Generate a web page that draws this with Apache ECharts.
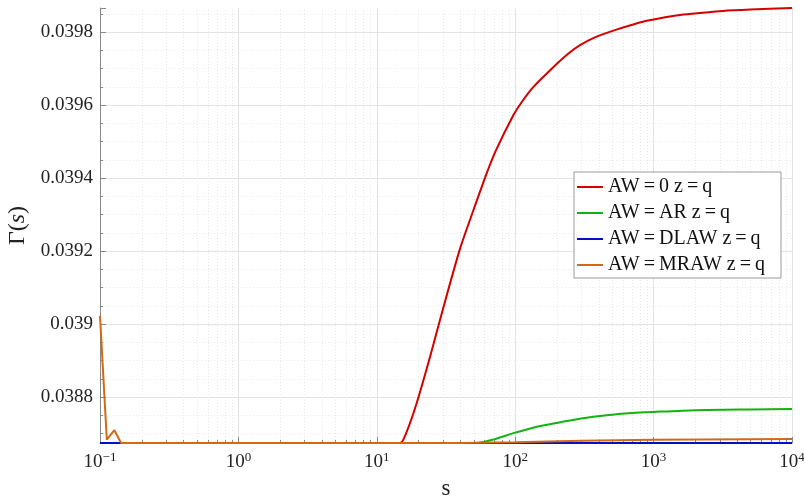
<!DOCTYPE html>
<html>
<head>
<meta charset="utf-8">
<title>Gamma(s)</title>
<script src="https://cdn.jsdelivr.net/npm/echarts@6/dist/echarts.min.js"></script>
<style>
    html, body { margin: 0; padding: 0; background: #fff; }
    #chart { width: 804px; height: 498px; }
</style>
</head>
<body>
<div id="chart"></div>
<script>
// 数据
var Y_MIN = 0.038674;
var Y_MAX = 0.039866;

var seriesNames = ['AW=0 z=q', 'AW=AR z=q', 'AW=DLAW z=q', 'AW=MRAW z=q'];
var seriesColors = ['#d40000', '#10b410', '#0010c8', '#d26a14'];

var sRed = [0.1, 14.7, 16.4, 19.4, 24.2, 30.3, 39.9, 49.8, 62.2, 72.6, 96.9, 110, 135, 200, 240, 294, 380, 512, 700,
    892, 1550, 3170, 5000, 10000];
var vRed = [0.038674, 0.038674, 0.038704, 0.038783, 0.038909, 0.039046, 0.039206, 0.039311, 0.039413, 0.039476,
    0.039572, 0.039605, 0.039649, 0.039713, 0.039740, 0.039764, 0.039786, 0.039804, 0.039820, 0.039831,
    0.039847, 0.039858, 0.039862, 0.039866];

var sGreen = [0.1, 52, 70, 97, 135, 200, 300, 458, 700, 993, 2000, 5000, 10000];
var vGreen = [0.038674, 0.038674, 0.038684, 0.038701, 0.038716, 0.038729, 0.038741, 0.038750, 0.038756,
    0.038759, 0.038764, 0.038766, 0.038767];

var sBlue = [0.1, 1, 10, 100, 1000, 10000];
var vBlue = [0.038674, 0.038674, 0.038674, 0.038674, 0.038674, 0.038674];

var sOrange = [0.1, 0.112, 0.127, 0.142, 1, 10, 40, 100, 300, 1000, 10000];
var vOrange = [0.039022, 0.038683, 0.038709, 0.038674, 0.038674, 0.038674, 0.038674, 0.038676, 0.038680,
    0.038683, 0.038685];

// x 轴次刻度 (2..9 × 10^n)
var xMinorTicks = [];
for (var e = -1; e < 4; e++) {
    for (var k = 2; k <= 9; k++) {
        xMinorTicks.push(+(k * Math.pow(10, e)).toFixed(4));
    }
}

var FONT = 'Liberation Serif';

function pairs(xs, ys) {
    return xs.map(function (x, i) {
        return [x, ys[i]];
    });
}

function lineSeries(i, xs, ys, smooth) {
    return {
        name: seriesNames[i],
        type: 'line',
        symbol: 'none',
        smooth: smooth || false,
        z: 3,
        lineStyle: {width: 2, color: seriesColors[i]},
        itemStyle: {color: seriesColors[i]},
        data: pairs(xs, ys)
    };
}

var chart = echarts.init(document.getElementById('chart'));

var option = {
    animation: false,
    backgroundColor: '#fff',
    grid: {
        left: 100,
        right: 12,
        top: 8,
        bottom: 55,
        outerBoundsMode: 'none'
    },
    legend: {
        data: seriesNames,
        orient: 'vertical',
        left: 574,
        top: 172,
        padding: [5, 16, 3, 3],
        icon: 'rect',
        itemWidth: 26,
        itemHeight: 2,
        itemGap: 6,
        borderColor: '#9a9a9a',
        borderWidth: 1,
        backgroundColor: '#fff',
        formatter: function (name) {
            return name.replace(/=/g, '{eq|=}');
        },
        textStyle: {
            fontFamily: FONT,
            fontSize: 20,
            lineHeight: 20,
            color: '#111',
            rich: {
                eq: {fontFamily: FONT, fontSize: 20, color: '#111', padding: [0, 4]}
            }
        }
    },
    xAxis: {
        type: 'log',
        logBase: 10,
        min: 0.1,
        max: 10000,
        name: 's',
        nameLocation: 'middle',
        nameGap: 34,
        nameTextStyle: {fontFamily: FONT, fontSize: 23, color: '#222'},
        axisLine: {lineStyle: {color: '#888', width: 1}},
        axisTick: {inside: true, length: 6, lineStyle: {color: '#888'}},
        splitLine: {show: true, lineStyle: {color: '#e3e3e3', width: 1}},
        axisLabel: {
            margin: 8,
            fontFamily: FONT,
            fontSize: 19,
            color: '#222',
            formatter: function (value) {
                var p = Math.round(Math.log(value) / Math.LN10);
                return '10{sup|' + (p < 0 ? '\u2212' + (-p) : p) + '}';
            },
            rich: {
                sup: {fontFamily: FONT, fontSize: 13, color: '#222', verticalAlign: 'bottom', padding: [0, 0, 9, 0]}
            }
        }
    },
    yAxis: {
        type: 'value',
        min: Y_MIN,
        max: Y_MAX,
        name: '\u0393({it|s})',
        nameLocation: 'middle',
        nameGap: 54,
        nameTextStyle: {
            fontFamily: FONT,
            fontSize: 24,
            color: '#222',
            rich: {
                it: {fontFamily: FONT, fontSize: 24, fontStyle: 'italic', color: '#222'}
            }
        },
        axisLine: {show: true, lineStyle: {color: '#888', width: 1}},
        axisTick: {show: true, inside: true, length: 6, lineStyle: {color: '#888'}},
        minorTick: {show: true, splitNumber: 4, length: 3, lineStyle: {color: '#888'}},
        splitLine: {show: true, showMinLine: false, showMaxLine: false, lineStyle: {color: '#e3e3e3', width: 1}},
        minorSplitLine: {show: true, lineStyle: {color: '#ececec', width: 1, type: [1, 2]}},
        axisLabel: {
            margin: 7,
            showMinLabel: false,
            showMaxLabel: false,
            fontFamily: FONT,
            fontSize: 19,
            color: '#222',
            formatter: function (v) {
                return String(+v.toFixed(5));
            }
        }
    },
    series: [
        {
            // x 轴次网格线和次刻度
            type: 'custom',
            silent: true,
            z: 1,
            data: xMinorTicks.map(function (v) {
                return [v, Y_MIN];
            }),
            renderItem: function (params, api) {
                var v = api.value(0);
                var b = api.coord([v, Y_MIN]);
                var t = api.coord([v, Y_MAX]);
                var x = Math.round(b[0]) + 0.5;
                return {
                    type: 'group',
                    children: [{
                        type: 'line',
                        shape: {x1: x, y1: b[1], x2: x, y2: t[1]},
                        style: {stroke: '#e8e8e8', lineWidth: 1, lineDash: [1, 2]}
                    }, {
                        type: 'line',
                        shape: {x1: x, y1: b[1], x2: x, y2: b[1] - 3},
                        style: {stroke: '#888', lineWidth: 1}
                    }]
                };
            }
        },
        lineSeries(0, sRed, vRed, 0.25),
        lineSeries(1, sGreen, vGreen, 0.25),
        lineSeries(2, sBlue, vBlue),
        lineSeries(3, sOrange, vOrange)
    ]
};

chart.setOption(option);
</script>
</body>
</html>
